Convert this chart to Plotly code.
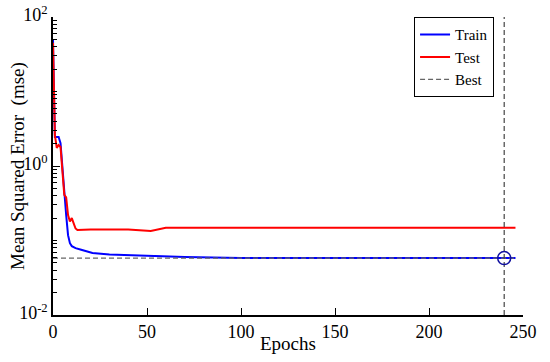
import plotly.graph_objects as go

# ---- data ----
train_epochs = [0, 1, 2, 3, 4, 5, 6, 7, 8, 9, 10, 12, 15, 21, 30, 52, 70, 100, 150, 200, 246]
train_mse = [49, 2.45, 2.45, 2.45, 2.03, 0.89, 0.41, 0.22, 0.118, 0.092, 0.084, 0.079,
             0.075, 0.068, 0.065, 0.062, 0.060, 0.058, 0.058, 0.058, 0.058]

test_epochs = [0, 1, 2, 3, 4, 5, 6, 7, 8, 9, 10, 11, 12, 13, 20, 40, 52, 60, 100, 150, 200, 246]
test_mse = [45, 2.6, 1.75, 1.91, 1.8, 0.89, 0.41, 0.38, 0.22, 0.18, 0.2, 0.17, 0.145, 0.138,
            0.141, 0.140, 0.134, 0.148, 0.148, 0.148, 0.148, 0.148]

best_epoch = 240
best_mse = 0.058
last_epoch = 246

x_ticks = [0, 50, 100, 150, 200, 250]
y_ticks = [0.01, 1, 100]
y_ticktext = ["10<sup>-2</sup>", "10<sup>0</sup>", "10<sup>2</sup>"]

FONT = "Liberation Serif"

minor_vals = [m * 10 ** e for e in range(-2, 2) for m in range(2, 11)]

fig = go.Figure()
fig.add_trace(go.Scatter(x=train_epochs, y=train_mse, mode="lines", name="Train",
                         line=dict(color="#0000ff", width=2)))
fig.add_trace(go.Scatter(x=test_epochs, y=test_mse, mode="lines", name="Test",
                         line=dict(color="#ff0000", width=2)))
fig.add_trace(go.Scatter(x=[0, last_epoch], y=[best_mse, best_mse], mode="lines", name="Best",
                         line=dict(color="#666666", width=1.3, dash="5px,3px")))
fig.add_trace(go.Scatter(x=[best_epoch, best_epoch], y=[0.01, 100], mode="lines",
                         showlegend=False,
                         line=dict(color="#444444", width=1.2, dash="5px,3px")))
fig.add_trace(go.Scatter(x=[best_epoch], y=[best_mse], mode="markers", showlegend=False,
                         marker=dict(symbol="circle-open", size=13, color="#1010a0",
                                     line=dict(width=1.5, color="#1010a0"))))

fig.update_layout(
    width=550, height=362,
    margin=dict(l=53, r=27, t=17, b=47),
    paper_bgcolor="white", plot_bgcolor="white",
    font=dict(family=FONT, size=18, color="black"),
    showlegend=True,
    legend=dict(x=0.938, y=1.0, xanchor="right", yanchor="top",
                bordercolor="black", borderwidth=1.2, bgcolor="white",
                font=dict(family=FONT, size=15), tracegroupgap=0,
                itemwidth=30),
    xaxis=dict(range=[0, 250], tickvals=x_ticks, ticks="inside", ticklen=7,
               tickcolor="black", tickwidth=1.3, showgrid=False, zeroline=False,
               showline=True, linecolor="black", linewidth=1.5, automargin=False,
               ticklabeloverflow="allow", tickfont=dict(family=FONT, size=18)),
    yaxis=dict(type="log", range=[-2, 2], tickvals=y_ticks, ticktext=y_ticktext,
               ticks="inside", ticklen=7, tickcolor="black", tickwidth=1.3,
               showgrid=False, zeroline=False, showline=True, linecolor="black",
               linewidth=1.5, automargin=False, ticklabeloverflow="allow",
               ticklabelshift=-2, tickfont=dict(family=FONT, size=18),
               minor=dict(tickvals=minor_vals, ticks="inside", ticklen=4,
                          tickcolor="black", tickwidth=1, showgrid=False)),
    annotations=[
        dict(text="Epochs", x=0.5, y=-(343 - 315) / 298, xref="paper", yref="paper",
             xanchor="center", yanchor="middle", showarrow=False,
             font=dict(family=FONT, size=19)),
        dict(text="Mean Squared Error  (mse)", x=(18 - 53) / 470, y=0.5,
             xref="paper", yref="paper", xanchor="center", yanchor="middle",
             showarrow=False, textangle=-90, font=dict(family=FONT, size=19)),
    ],
)

# remove the browser's default 8px body margin so the figure sits at the page corner
fig.write_html("out.html", config={"displayModeBar": False},
               post_script="document.body.style.margin='0';")
